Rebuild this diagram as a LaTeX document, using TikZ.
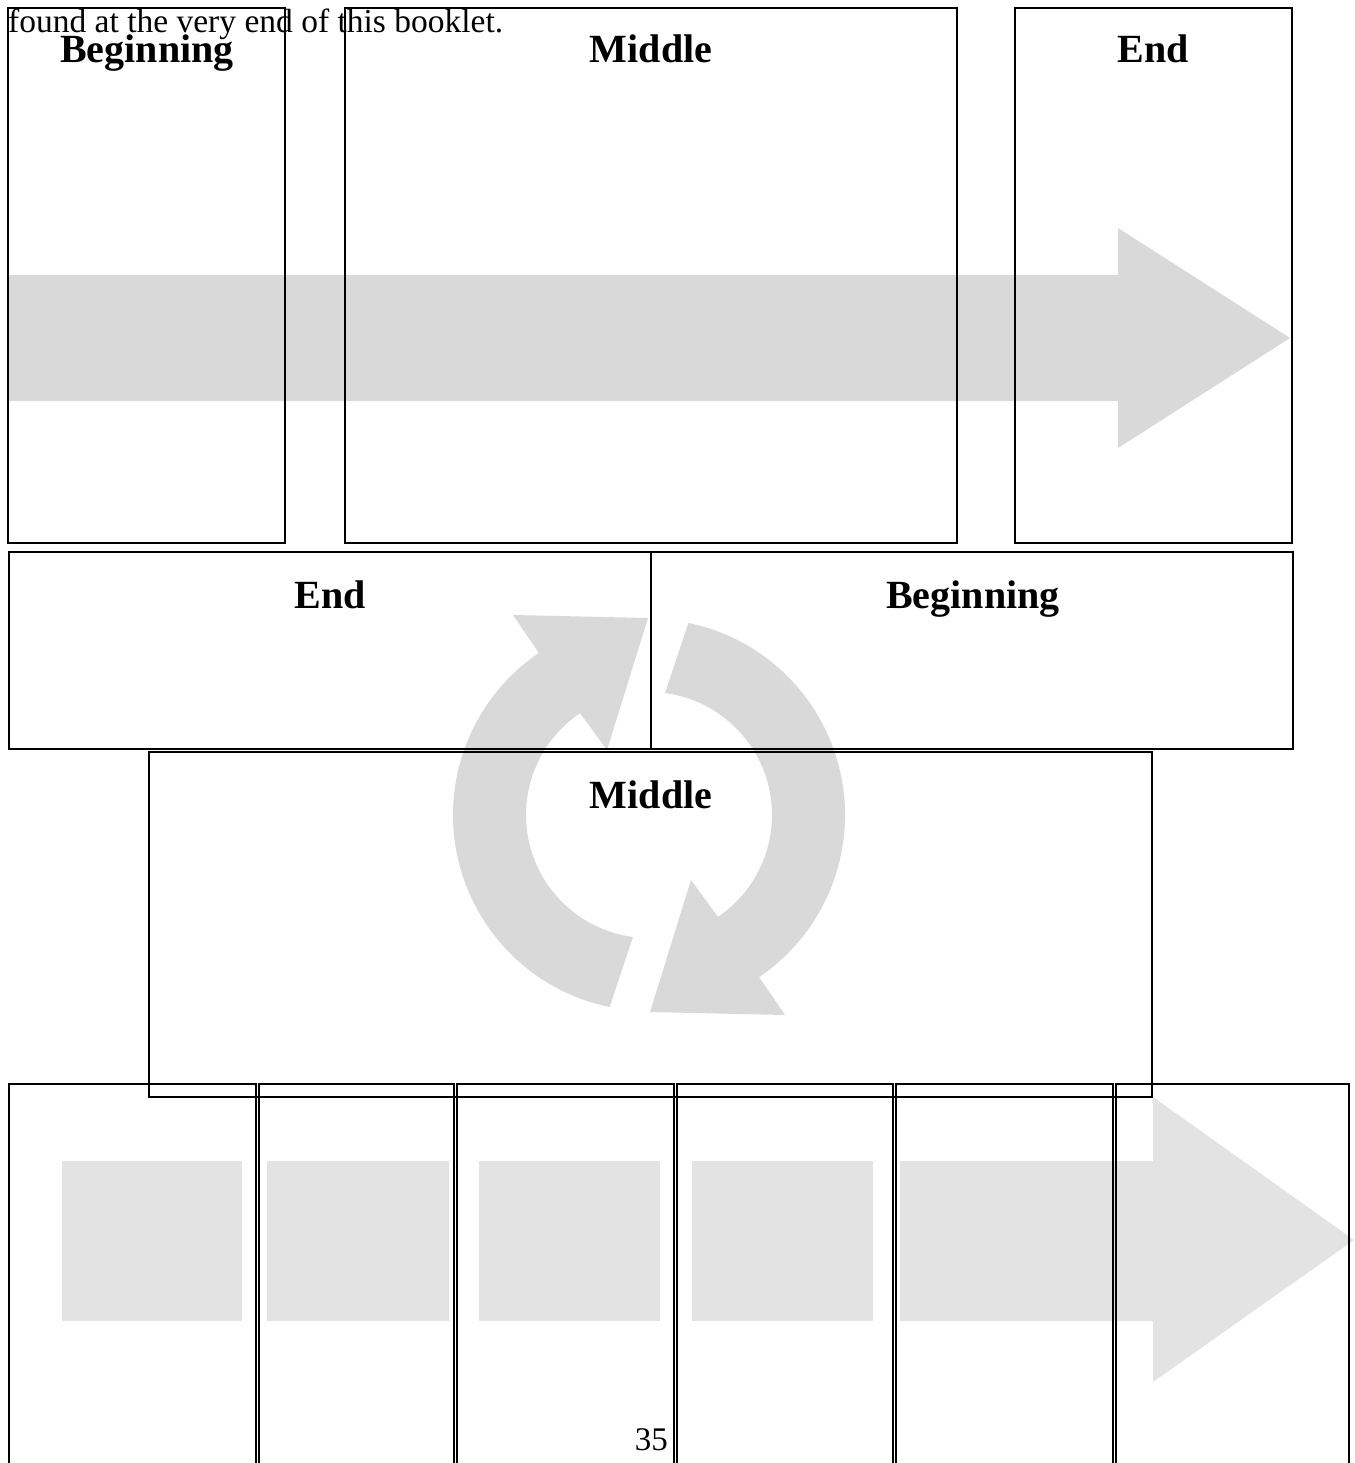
\documentclass[tikz,border=0pt]{standalone}
\usepackage{fontspec}
\setmainfont{Liberation Serif}
\begin{document}
\begin{tikzpicture}[x=1pt,y=-1pt,
  box/.style={draw=black,line width=2pt},
  grayA/.style={fill=black!15,draw=none},
  grayB/.style={fill=black!11,draw=none},
  head/.style={anchor=base,inner sep=0pt,font=\fontsize{40}{42}\selectfont\bfseries},
  body/.style={anchor=base west,inner sep=0pt,font=\fontsize{33.5}{36}\selectfont}]
\clip (0,0) rectangle (1354,1463);
\fill[white] (0,0) rectangle (1354,1463);
% gray shapes
\fill[grayA] (8,275) -- (1118,275) -- (1118,228) -- (1290,338) -- (1118,448) -- (1118,401) -- (8,401) -- cycle;
\begin{scope}[shift={(649,815)},yscale=-1]
  \fill[grayA] (258.4:196) arc[start angle=258.4,end angle=124.2,radius=196]
     -- (-136,200) -- (-1,197) -- (-42,65) -- (124.1:123)
     arc[start angle=124.1,end angle=262.5,radius=123] -- cycle;
  \begin{scope}[rotate=180]
  \fill[grayA] (258.4:196) arc[start angle=258.4,end angle=124.2,radius=196]
     -- (-136,200) -- (-1,197) -- (-42,65) -- (124.1:123)
     arc[start angle=124.1,end angle=262.5,radius=123] -- cycle;
  \end{scope}
\end{scope}
\fill[grayB] (62,1161) rectangle (242,1321);
\fill[grayB] (267,1161) rectangle (449,1321);
\fill[grayB] (479,1161) rectangle (660,1321);
\fill[grayB] (692,1161) rectangle (873,1321);
\fill[grayB] (900,1161) -- (1153,1161) -- (1153,1097) -- (1354,1240) -- (1153,1382) -- (1153,1321) -- (900,1321) -- cycle;
% top row
\draw[box] (8,8) rectangle (285,543);
\draw[box] (345,8) rectangle (957,543);
\draw[box] (1015,8) rectangle (1292,543);
% second row
\draw[box] (9,552) rectangle (651,749);
\draw[box] (651,552) rectangle (1293,749);
% bottom row
\draw[box] (9,1084) rectangle (256,1480);
\draw[box] (259,1084) rectangle (454,1480);
\draw[box] (457,1084) rectangle (674,1480);
\draw[box] (677,1084) rectangle (893,1480);
\draw[box] (896,1084) rectangle (1113,1480);
\draw[box] (1116,1084) rectangle (1349,1480);
% middle box
\draw[box] (149,752) rectangle (1152,1097);
% labels
\node[head] (b1) at (147,63) {Beginning};
\node[head] (m1) at (651,63) {Middle};
\node[head] (e1) at (1153,63) {End};
\node[head] (e2) at (330,608) {End};
\node[head] (b2) at (973,608) {Beginning};
\node[head] (m2) at (651,808) {Middle};
\node[body] (t1) at (8,33) {found at the very end of this booklet.};
\node[anchor=base east,inner sep=0pt,font=\fontsize{33}{36}\selectfont] (pg) at (668,1450) {35};
\end{tikzpicture}
\end{document}
